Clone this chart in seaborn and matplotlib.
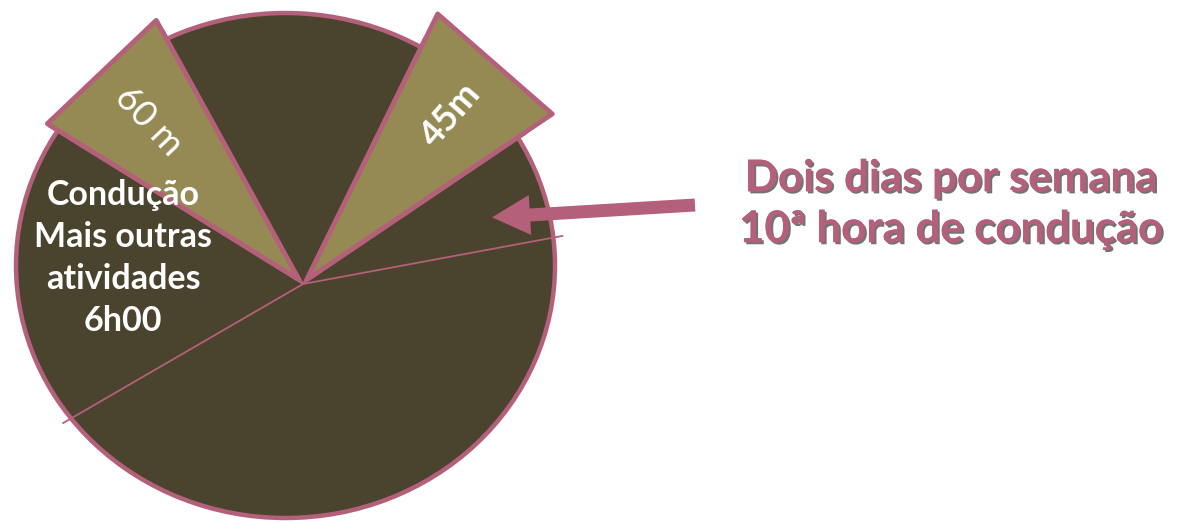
import numpy as np
import matplotlib
matplotlib.use("Agg")
import matplotlib.pyplot as plt
import matplotlib.patheffects as pe
from matplotlib.patches import Ellipse, Polygon
import seaborn as sns

# ---- data ----
slice_labels = ["", "45m", "", "60 m", "Condução\nMais outras\natividades\n6h00", ""]
slice_deg = [23.5, 29.8, 55.0, 29.4, 61.9, 160.4]
highlight = [False, True, False, True, False, False]
label_weight = ["normal", "bold", "normal", "normal", "bold", "normal"]
start_angle = 10.5
callout = "Dois dias por semana\n10ª hora de condução"

# ---- style ----
sns.set_theme(style="white")
plt.rcParams["font.family"] = ["Lato", "DejaVu Sans"]
DARK = "#4A432D"
LIGHT = "#958A54"
PINK = "#B5607A"

W, H = 1179, 522
fig = plt.figure(figsize=(W / 100, H / 100), dpi=100)
ax = fig.add_axes([0, 0, 1, 1])
ax.set_xlim(0, W)
ax.set_ylim(H, 0)
ax.axis("off")

# pie geometry (pixel space)
ecx, ecy, erx, ery = 285.5, 265.5, 269.5, 252.5
cx, cy = 303, 284
R_hi = 296
explode = 6

ax.add_patch(Ellipse((ecx, ecy), 2 * erx, 2 * ery, facecolor=DARK,
                     edgecolor=PINK, linewidth=3.2, zorder=1))


def pt(x0, y0, ang, r):
    a = np.deg2rad(ang)
    return x0 + r * np.cos(a), y0 - r * np.sin(a)


def ellipse_hit(ang):
    # distance from (cx,cy) along ang to the ellipse edge
    a = np.deg2rad(ang)
    dx, dy = np.cos(a), -np.sin(a)
    px, py = cx - ecx, cy - ecy
    A = (dx / erx) ** 2 + (dy / ery) ** 2
    B = 2 * (px * dx / erx ** 2 + py * dy / ery ** 2)
    C = (px / erx) ** 2 + (py / ery) ** 2 - 1
    return (-B + np.sqrt(B * B - 4 * A * C)) / (2 * A)


bounds = start_angle + np.concatenate([[0], np.cumsum(slice_deg)])

# thin slice boundaries
for b in bounds[:-1]:
    L = ellipse_hit(b) + 10
    x1, y1 = pt(cx, cy, b, L)
    ax.plot([cx, x1], [cy, y1], color=PINK, lw=1.3, zorder=2,
            solid_capstyle="butt")

# highlighted slices as pointed triangles
for i, (lab, d) in enumerate(zip(slice_labels, slice_deg)):
    a0, a1 = bounds[i], bounds[i + 1]
    mid = (a0 + a1) / 2
    if highlight[i]:
        ax0, ay0 = pt(cx, cy, mid, explode)
        p0 = pt(ax0, ay0, a0, R_hi)
        p1 = pt(ax0, ay0, a1, R_hi)
        ax.add_patch(Polygon([(ax0, ay0), p0, p1], closed=True,
                             facecolor=LIGHT, edgecolor=PINK, linewidth=3.4,
                             joinstyle="round", zorder=3))
        tx, ty = pt(cx, cy, mid, 224)
        rot = mid if mid < 90 else mid - 180
        ax.text(tx, ty, lab, color="white", fontsize=26,
                fontweight=label_weight[i], rotation=rot,
                rotation_mode="anchor", ha="center", va="center", zorder=4)
    elif lab:
        ax.text(123, 258, lab, color="white", fontsize=24.5,
                fontweight=label_weight[i], ha="center", va="center",
                linespacing=1.38, zorder=4)

# callout arrow + text
ax.arrow(695, 205, -165, 10, width=13, head_width=40, head_length=38,
         length_includes_head=False, color=PINK, zorder=5, linewidth=0)
ax.text(951, 204, callout, color=PINK, fontsize=31.5, fontweight="bold",
        ha="center", va="center", linespacing=1.33, zorder=5,
        path_effects=[pe.withSimplePatchShadow(offset=(1.5, -1.5),
                                               shadow_rgbFace="black",
                                               alpha=0.55),
                      pe.Normal()])

fig.savefig("out.png", dpi=100)
